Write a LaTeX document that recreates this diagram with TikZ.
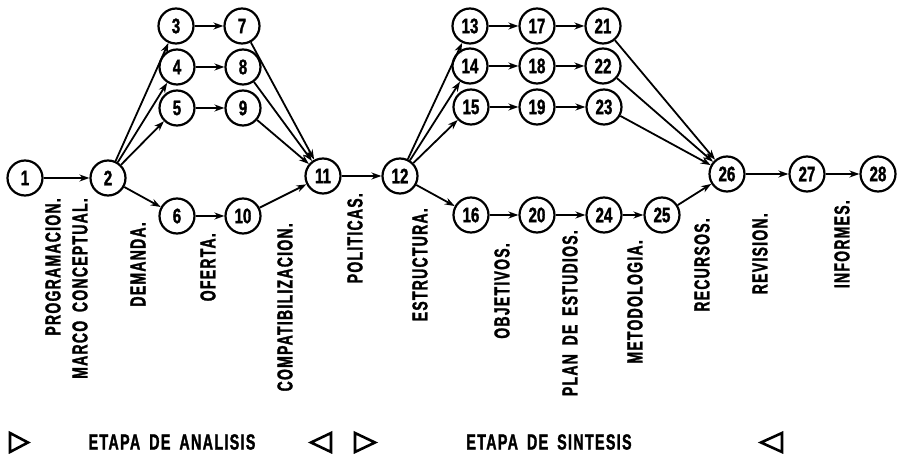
\documentclass[tikz,border=0pt]{standalone}
\usepackage{fontspec}
\newfontfamily\lf{Liberation Sans}[FakeStretch=0.72,BoldFeatures={FakeBold=1.4}]
\newfontfamily\lblfont{Liberation Sans}[FakeStretch=0.65,LetterSpace=6,WordSpace=1.7,BoldFeatures={FakeBold=1.4}]
\usetikzlibrary{arrows.meta}
\begin{document}
\begin{tikzpicture}[x=1pt,y=-1pt,
  ev/.style={circle,draw,line width=2.2pt,minimum size=35pt,inner sep=0pt,font=\lf\fontsize{21}{21}\selectfont\bfseries},
  ar/.style={-{Stealth[length=10pt,width=7pt]},line width=1.8pt},
  lab/.style={rotate=90,anchor=east,inner sep=0pt,font=\lblfont\fontsize{21.5}{21.5}\selectfont\bfseries},
  stage/.style={inner sep=0pt,font=\lblfont\fontsize{22}{22}\selectfont\bfseries},
  tri/.style={line width=2.6pt,line join=miter}]
\useasboundingbox (0,0) rectangle (898,454);
% events
\node[ev] (n1) at (25,178) {1};
\node[ev] (n2) at (108,178) {2};
\node[ev] (n3) at (176,26) {3};
\node[ev] (n7) at (242,26) {7};
\node[ev] (n4) at (177,67) {4};
\node[ev] (n8) at (243,67) {8};
\node[ev] (n5) at (177,108) {5};
\node[ev] (n9) at (243,108) {9};
\node[ev] (n6) at (177,216) {6};
\node[ev] (n10) at (243,216) {10};
\node[ev] (n11) at (323,176) {11};
\node[ev] (n12) at (400,176) {12};
\node[ev] (n13) at (470,26) {13};
\node[ev] (n17) at (537,26) {17};
\node[ev] (n21) at (603,26) {21};
\node[ev] (n14) at (470,66) {14};
\node[ev] (n18) at (537,66) {18};
\node[ev] (n22) at (603,66) {22};
\node[ev] (n15) at (471,107) {15};
\node[ev] (n19) at (537,107) {19};
\node[ev] (n23) at (604,107) {23};
\node[ev] (n16) at (471,215) {16};
\node[ev] (n20) at (537,215) {20};
\node[ev] (n24) at (604,215) {24};
\node[ev] (n25) at (662,215) {25};
\node[ev] (n26) at (727,174) {26};
\node[ev] (n27) at (807,174) {27};
\node[ev] (n28) at (878,174) {28};
% activities
\draw[ar] (n1) -- (n2);
\draw[ar] (n2) -- (n3);
\draw[ar] (n2) -- (n4);
\draw[ar] (n2) -- (n5);
\draw[ar] (n2) -- (n6);
\draw[ar] (n3) -- (n7);
\draw[ar,line width=2.4pt] (n4) -- (n8);
\draw[ar] (n5) -- (n9);
\draw[ar] (n6) -- (n10);
\draw[ar] (n7) -- (n11);
\draw[ar] (n8) -- (n11);
\draw[ar] (n9) -- (n11);
\draw[ar] (n10) -- (n11);
\draw[ar] (n11) -- (n12);
\draw[ar] (n12) -- (n13);
\draw[ar] (n12) -- (n14);
\draw[ar] (n12) -- (n15);
\draw[ar] (n12) -- (n16);
\draw[ar] (n13) -- (n17);
\draw[ar] (n17) -- (n21);
\draw[ar] (n14) -- (n18);
\draw[ar] (n18) -- (n22);
\draw[ar] (n15) -- (n19);
\draw[ar] (n19) -- (n23);
\draw[ar] (n16) -- (n20);
\draw[ar] (n20) -- (n24);
\draw[ar] (n24) -- (n25);
\draw[ar] (n21) -- (n26);
\draw[ar] (n22) -- (n26);
\draw[ar] (n23) -- (n26);
\draw[ar] (n25) -- (n26);
\draw[ar] (n26) -- (n27);
\draw[ar] (n27) -- (n28);
% labels
\node[lab] (l1) at (53,198) {PROGRAMACION.};
\node[lab] (l2) at (80,198) {MARCO CONCEPTUAL.};
\node[lab] (l3) at (138,222) {DEMANDA.};
\node[lab] (l4) at (208,233) {OFERTA.};
\node[lab] (l5) at (285,223) {COMPATIBILIZACION.};
\node[lab] (l6) at (355,193) {POLITICAS.};
\node[lab] (l7) at (420,208) {ESTRUCTURA.};
\node[lab] (l8) at (502,243) {OBJETIVOS.};
\node[lab] (l9) at (570,230) {PLAN DE ESTUDIOS.};
\node[lab] (l10) at (635,240) {METODOLOGIA.};
\node[lab] (l11) at (702,218) {RECURSOS.};
\node[lab] (l12) at (760,213) {REVISION.};
\node[lab] (l13) at (842,200) {INFORMES.};
% stages
\node[stage] (s1) at (172,442) {ETAPA DE ANALISIS};
\node[stage] (s2) at (549,442) {ETAPA DE SINTESIS};
\draw[tri] (10,433) -- (28,442.5) -- (10,452) -- cycle;
\draw[tri] (331,433) -- (311,442.5) -- (331,452) -- cycle;
\draw[tri] (355,433) -- (375,442.5) -- (355,452) -- cycle;
\draw[tri] (782,433) -- (761,442.5) -- (782,452) -- cycle;
\end{tikzpicture}
\end{document}
